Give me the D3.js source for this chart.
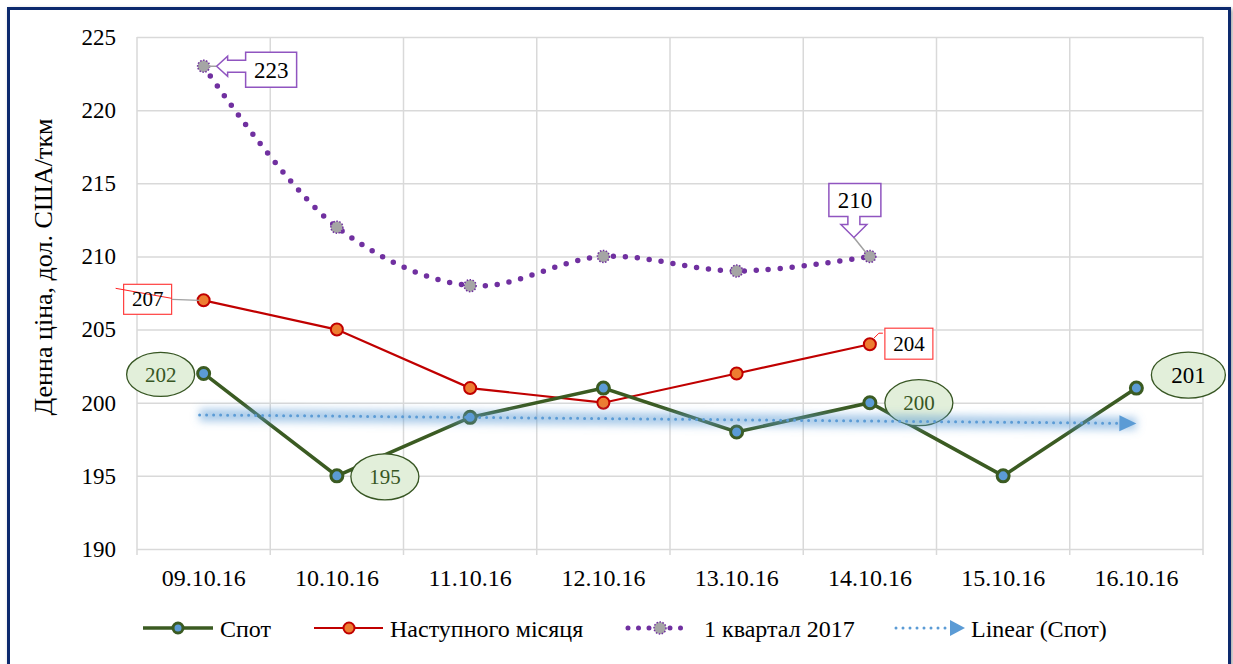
<!DOCTYPE html>
<html><head><meta charset="utf-8">
<script src="https://cdn.jsdelivr.net/npm/d3@7"></script>
<style>
html,body{margin:0;padding:0;background:#fff;}
svg text{font-family:"Liberation Serif","Tinos","Times New Roman","DejaVu Serif",serif !important;}
</style></head>
<body>
<svg id="c" width="1233" height="664"></svg>
<script>
const dates = ["09.10.16","10.10.16","11.10.16","12.10.16","13.10.16","14.10.16","15.10.16","16.10.16"];
const spot = [202,195,199,201,198,200,195,201];
const nextMonth = [207,205,201,200,202,204];
const q1_2017 = [223,212,208,210,209,210];
const yTicks = [190,195,200,205,210,215,220,225];
const seriesNames = ["Спот","Наступного місяця","1 квартал 2017","Linear (Спот)"];
const yTitle = "Денна ціна, дол. США/ткм";
const FONT = "Liberation Serif, Tinos, Times New Roman, serif";

const svg = d3.select("#c").attr("font-family",FONT);
const L=137, R=1203, T=37, B=549;
const x = d3.scaleBand().domain(dates).range([L,R]);
const cx = d => x(d) + x.bandwidth()/2;
const y = d3.scaleLinear().domain([190,225]).range([B,T]);

const defs = svg.append("defs");
const f = defs.append("filter").attr("id","glow").attr("x","-10%").attr("y","-200%").attr("width","120%").attr("height","500%");
f.append("feGaussianBlur").attr("stdDeviation",4);
const sh = defs.append("filter").attr("id","shadow").attr("x","-5%").attr("y","-5%").attr("width","110%").attr("height","110%");
sh.append("feDropShadow").attr("dx",2).attr("dy",2).attr("stdDeviation",2).attr("flood-color","#000").attr("flood-opacity",0.35);

// frame
svg.append("rect").attr("x",8.5).attr("y",8.5).attr("width",1221).attr("height",660)
  .attr("fill","#fff").attr("stroke","#0e2a6e").attr("stroke-width",3).attr("filter","url(#shadow)");

// horizontal grid
svg.append("g").attr("transform",`translate(${L},0)`)
  .call(d3.axisLeft(y).tickValues(yTicks).tickSize(-(R-L)).tickFormat(""))
  .call(g=>g.select(".domain").remove())
  .call(g=>g.selectAll("line").attr("stroke","#d9d9d9").attr("stroke-width",1.5));
// vertical grid at category boundaries (with small ticks below axis)
const bounds = dates.map(d=>x(d)).concat([R]);
svg.append("g").selectAll("line").data(bounds).join("line")
  .attr("x1",d=>d).attr("x2",d=>d).attr("y1",T).attr("y2",B+6)
  .attr("stroke","#d9d9d9").attr("stroke-width",1.5);

// y axis labels
svg.append("g").attr("transform",`translate(${L-21},0)`)
  .call(d3.axisLeft(y).tickValues(yTicks).tickSize(0).tickPadding(0))
  .call(g=>g.select(".domain").remove())
  .call(g=>g.attr("font-family",FONT).selectAll("text").attr("font-size",23).attr("fill","#000"));
// x axis labels
svg.append("g").attr("transform",`translate(0,${B})`)
  .call(d3.axisBottom(x).tickSize(0).tickPadding(20))
  .call(g=>g.select(".domain").remove())
  .call(g=>g.attr("font-family",FONT).selectAll("text").attr("font-size",24).attr("fill","#000"));

// y title
svg.append("text").attr("transform","translate(52,267) rotate(-90)")
  .attr("text-anchor","middle").attr("font-size",26).text(yTitle);

// series
const lineSmooth = d3.line().x((d,i)=>cx(dates[i])).y(d=>y(d)).curve(d3.curveCatmullRom.alpha(0.5));
const line = d3.line().x((d,i)=>cx(dates[i])).y(d=>y(d));
// 1 квартал 2017
svg.append("path").datum(q1_2017).attr("d",lineSmooth)
  .attr("fill","none").attr("stroke","#7030a0").attr("stroke-width",5.5)
  .attr("stroke-linecap","round").attr("stroke-dasharray","0 12");
svg.append("g").selectAll("circle").data(q1_2017).join("circle")
  .attr("cx",(d,i)=>cx(dates[i])).attr("cy",d=>y(d)).attr("r",6)
  .attr("fill","#a5a5a5").attr("stroke","#7030a0").attr("stroke-width",1.5).attr("stroke-dasharray","1.5 1.5");
// Наступного місяця
svg.append("path").datum(nextMonth).attr("d",line)
  .attr("fill","none").attr("stroke","#c00000").attr("stroke-width",2.2);
svg.append("g").selectAll("circle").data(nextMonth).join("circle")
  .attr("cx",(d,i)=>cx(dates[i])).attr("cy",d=>y(d)).attr("r",6)
  .attr("fill","#ed7d31").attr("stroke","#c00000").attr("stroke-width",2);
// Спот
svg.append("path").datum(spot).attr("d",line)
  .attr("fill","none").attr("stroke","#3b5b22").attr("stroke-width",3.5);
svg.append("g").selectAll("circle").data(spot).join("circle")
  .attr("cx",(d,i)=>cx(dates[i])).attr("cy",d=>y(d)).attr("r",6)
  .attr("fill","#5b9bd5").attr("stroke","#3b5b22").attr("stroke-width",3);

// labels
const P = (i,v)=>[cx(dates[i]), y(v)];
// 223 callout (left arrow)
{
  const [px,py] = P(0,q1_2017[0]);
  const bx = px+42, by = py-14, bw=51, bh=35, my = py;
  svg.append("line").attr("x1",px+4).attr("y1",py).attr("x2",px+13).attr("y2",py).attr("stroke","#a0a0a0").attr("stroke-width",1.5);
  const p = `M${bx},${by} H${bx+bw} V${by+bh} H${bx} V${my+6} H${bx-18} V${my+10} L${px+13},${my} L${bx-18},${my-10} V${my-6} H${bx} Z`;
  svg.append("path").attr("d",p).attr("fill","#fff").attr("stroke","#9055c0").attr("stroke-width",1.5);
  svg.append("text").attr("x",bx+bw/2).attr("y",by+bh/2+8).attr("text-anchor","middle").attr("font-size",23).text(q1_2017[0]);
}
// 210 callout (down arrow)
{
  const [px,py] = P(5,q1_2017[5]);
  const bx = px-41, by = py-73, bw=52, bh=33;
  const ax = bx+25, tipY = by+bh+21;
  svg.append("line").attr("x1",ax).attr("y1",tipY).attr("x2",px-4).attr("y2",py-4).attr("stroke","#a0a0a0").attr("stroke-width",1.5);
  const p = `M${bx},${by} H${bx+bw} V${by+bh} H${ax+6} V${by+bh+8} H${ax+13} L${ax},${tipY} L${ax-13},${by+bh+8} H${ax-6} V${by+bh} H${bx} Z`;
  svg.append("path").attr("d",p).attr("fill","#fff").attr("stroke","#9055c0").attr("stroke-width",1.5);
  svg.append("text").attr("x",bx+bw/2).attr("y",by+bh/2+8).attr("text-anchor","middle").attr("font-size",23).text(q1_2017[5]);
}
// 207 box
{
  const [px,py] = P(0,nextMonth[0]);
  const bx=px-80, by=py-16, bw=48, bh=30;
  svg.append("rect").attr("x",bx).attr("y",by).attr("width",bw).attr("height",bh).attr("fill","#fff").attr("stroke","#ff4040").attr("stroke-width",1.2);
  svg.append("line").attr("x1",bx+bw).attr("y1",py-1).attr("x2",px-4).attr("y2",py).attr("stroke","#a0a0a0").attr("stroke-width",1.2);
  svg.append("line").attr("x1",bx-8).attr("y1",by+4).attr("x2",bx+bw).attr("y2",py-2).attr("stroke","#ff2020").attr("stroke-width",1);
  svg.append("text").attr("x",bx+bw/2).attr("y",by+bh/2+7).attr("text-anchor","middle").attr("font-size",21).text(nextMonth[0]);
}
// 204 box
{
  const [px,py] = P(5,nextMonth[5]);
  const bx=px+15, by=py-16, bw=48, bh=31;
  svg.append("rect").attr("x",bx).attr("y",by).attr("width",bw).attr("height",bh).attr("fill","#fff").attr("stroke","#ff4040").attr("stroke-width",1.2);
  svg.append("path").attr("d",`M${px+4},${py-6} L${px+9},${py-11} H${px+13}`).attr("fill","none").attr("stroke","#ff2020").attr("stroke-width",1);
  svg.append("text").attr("x",bx+bw/2).attr("y",by+bh/2+7).attr("text-anchor","middle").attr("font-size",21).text(nextMonth[5]);
}
// spot ellipses
const ell = [
  {i:0, dx:-43, dy:1, rx:34, ry:22, col:"#375623", fs:21},
  {i:1, dx:48, dy:1, rx:34, ry:23, col:"#375623", fs:21},
  {i:5, dx:49, dy:0, rx:34, ry:23, col:"#375623", fs:21},
  {i:7, dx:52, dy:-13, rx:37, ry:23, col:"#000", fs:23}
];
ell.forEach(e=>{
  const [px,py] = P(e.i, spot[e.i]);
  svg.append("ellipse").attr("cx",px+e.dx).attr("cy",py+e.dy).attr("rx",e.rx).attr("ry",e.ry)
    .attr("fill","#e2efda").attr("stroke","#375623").attr("stroke-width",1.3);
  svg.append("text").attr("x",px+e.dx).attr("y",py+e.dy+e.fs*0.34).attr("text-anchor","middle")
    .attr("font-size",e.fs).attr("fill",e.col).text(spot[e.i]);
});

// linear trend of spot (least squares)
const n = spot.length, xs = d3.range(1,n+1);
const mx = d3.mean(xs), my = d3.mean(spot);
const slope = d3.sum(xs,(v,i)=>(v-mx)*(spot[i]-my)) / d3.sum(xs,v=>(v-mx)*(v-mx));
const icpt = my - slope*mx;
const t0 = [cx(dates[0]), y(icpt+slope*1)], t1=[cx(dates[n-1]), y(icpt+slope*n)];
svg.append("line").attr("x1",t0[0]-4).attr("y1",t0[1]).attr("x2",t1[0]).attr("y2",t1[1])
  .attr("stroke","#5b9bd5").attr("stroke-opacity",0.55).attr("stroke-width",12).attr("filter","url(#glow)");
const ang = Math.atan2(t1[1]-t0[1], t1[0]-t0[0]);
const ex = t1[0]-17*Math.cos(ang), ey = t1[1]-17*Math.sin(ang);
svg.append("line").attr("x1",t0[0]-4).attr("y1",t0[1]).attr("x2",ex).attr("y2",ey)
  .attr("stroke","#5b9bd5").attr("stroke-width",3).attr("stroke-linecap","round").attr("stroke-dasharray","0 7");
svg.append("path").attr("d",`M${t1[0]},${t1[1]} L${ex},${ey-8} L${ex},${ey+8} Z`)
  .attr("transform",`rotate(${ang*180/Math.PI},${t1[0]},${t1[1]})`).attr("fill","#5b9bd5");

// legend
const ly = 628, tb = ly+9;
const lg = svg.append("g");
lg.append("line").attr("x1",143).attr("x2",213).attr("y1",ly).attr("y2",ly).attr("stroke","#3b5b22").attr("stroke-width",3.5);
lg.append("circle").attr("cx",178).attr("cy",ly).attr("r",5).attr("fill","#5b9bd5").attr("stroke","#3b5b22").attr("stroke-width",3);
lg.append("text").attr("x",220).attr("y",tb).attr("font-size",24).text(seriesNames[0]);
lg.append("line").attr("x1",314).attr("x2",383).attr("y1",ly).attr("y2",ly).attr("stroke","#c00000").attr("stroke-width",2.2);
lg.append("circle").attr("cx",349).attr("cy",ly).attr("r",5.5).attr("fill","#ed7d31").attr("stroke","#c00000").attr("stroke-width",2);
lg.append("text").attr("x",390).attr("y",tb).attr("font-size",24).text(seriesNames[1]);
lg.append("line").attr("x1",628).attr("x2",691).attr("y1",ly).attr("y2",ly).attr("stroke","#7030a0").attr("stroke-width",5).attr("stroke-linecap","round").attr("stroke-dasharray","0 10.5");
lg.append("circle").attr("cx",660).attr("cy",ly).attr("r",6).attr("fill","#a5a5a5").attr("stroke","#7030a0").attr("stroke-width",1.5).attr("stroke-dasharray","1.5 1.5");
lg.append("text").attr("x",704).attr("y",tb).attr("font-size",24).text(seriesNames[2]);
lg.append("line").attr("x1",896).attr("x2",946).attr("y1",ly).attr("y2",ly).attr("stroke","#5b9bd5").attr("stroke-width",3).attr("stroke-linecap","round").attr("stroke-dasharray","0 7");
lg.append("path").attr("d",`M950,${ly-8} L965,${ly} L950,${ly+8} Z`).attr("fill","#5b9bd5");
lg.append("text").attr("x",971).attr("y",tb).attr("font-size",24).text(seriesNames[3]);
</script>
</body></html>
